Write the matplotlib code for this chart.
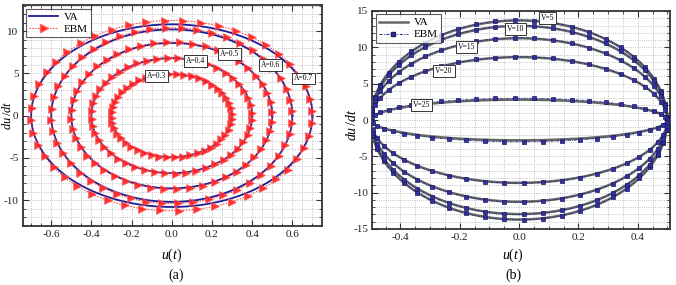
import numpy as np
import matplotlib
matplotlib.use("Agg")
import matplotlib.pyplot as plt
from matplotlib.ticker import MultipleLocator

plt.rcParams['font.family'] = ['Liberation Serif', 'DejaVu Serif']
plt.rcParams['mathtext.fontset'] = 'custom'
plt.rcParams['mathtext.rm'] = 'Liberation Serif'
plt.rcParams['mathtext.it'] = 'Liberation Serif:italic'

# ---- data ----
# panel (a): amplitude and peak velocity of each phase curve
amp_a = [0.3, 0.4, 0.5, 0.6, 0.7]
va_peak_a = [4.9, 6.8, 8.6, 10.2, 10.8]
ebm_peak_a = [4.95, 6.85, 8.7, 10.4, 11.25]
labels_a = ["A=0.3", "A=0.4", "A=0.5", "A=0.6", "A=0.7"]
label_pos_a = [(-0.075, 4.7), (0.116, 6.5), (0.287, 7.26), (0.489, 6.0), (0.655, 4.4)]

# panel (b): amplitude 0.5, peak velocity for each V
v_vals = [5, 10, 15, 20, 25]
amp_b = [0.5, 0.5, 0.5, 0.5, 0.5]
va_peak_b = [13.7, 12.95, 11.25, 8.65, 2.8]
ebm_peak_b = [13.75, 13.0, 11.3, 8.7, 3.0]
labels_b = ["V=5", "V=10", "V=15", "V=20", "V=25"]
label_pos_b = [(0.095, 14.0), (-0.013, 12.5), (-0.176, 10.0), (-0.253, 6.7), (-0.328, 2.05)]

W, H = 676, 285
fig = plt.figure(figsize=(W / 100, H / 100), dpi=100)

def px_axes(x0, y0, x1, y1):
    return fig.add_axes([x0 / W, 1 - y1 / H, (x1 - x0) / W, (y1 - y0) / H])

axA = px_axes(22.7, 5.3, 321.7, 226)
axB = px_axes(372.3, 11, 670, 229)

th_line = np.linspace(0, 2 * np.pi, 400)
N_a, N_b = 48, 48

def style_axes(ax, xmaj, xmin, ymaj, ymin):
    ax.xaxis.set_major_locator(MultipleLocator(xmaj))
    ax.xaxis.set_minor_locator(MultipleLocator(xmin))
    ax.yaxis.set_major_locator(MultipleLocator(ymaj))
    ax.yaxis.set_minor_locator(MultipleLocator(ymin))
    ax.grid(True, which='both', color='#b0b0b0', linestyle=':', linewidth=0.6)
    ax.set_axisbelow(True)
    ax.tick_params(which='both', direction='in', top=True, right=True,
                   labelsize=8, colors='#333333', labelcolor='#222222', pad=3)
    ax.tick_params(which='major', length=4, width=0.8)
    ax.tick_params(which='minor', length=2, width=0.6)
    for s in ax.spines.values():
        s.set_color('#333333')
        s.set_linewidth(1.3)

# ---- panel (a) ----
for i, A in enumerate(amp_a):
    axA.plot(A * np.cos(th_line), va_peak_a[i] * np.sin(th_line), color='#1c1c96',
             lw=1.3, zorder=3, label='VA' if i == 0 else None)
    th = np.linspace(0, 2 * np.pi, N_a, endpoint=False) + 0.05
    axA.plot(A * np.cos(th_line), ebm_peak_a[i] * np.sin(th_line),
             color='#ff3030', lw=0.7, ls=(0, (1.5, 1.5)), zorder=4)
    axA.plot(A * np.cos(th), ebm_peak_a[i] * np.sin(th), ls='none', marker='>',
             ms=5.5, color='#ff2020', mec='#ff6060', mew=0.5, alpha=0.9, zorder=5)
axA.plot([], [], color='#ff3030', lw=0.7, ls=(0, (1.5, 1.5)), marker='>', ms=5.5,
         mfc='#ff2020', mec='#ff6060', label='EBM')
for t, (x, y) in zip(labels_a, label_pos_a):
    axA.text(x, y, t, fontsize=5.5, ha='center', va='center', zorder=6,
             bbox=dict(boxstyle='square,pad=0.25', fc='white', ec='#333333', lw=0.7))
axA.set_xlim(-0.742, 0.746)
axA.set_ylim(-13.05, 13.05)
style_axes(axA, 0.2, 0.05, 5, 1)
axA.set_xticks([-0.6, -0.4, -0.2, 0.0, 0.2, 0.4, 0.6])
axA.set_xticklabels(['-0.6', '-0.4', '-0.2', '0.0', '0.2', '0.4', '0.6'])
axA.set_yticks([-10, -5, 0, 5, 10])
axA.set_yticklabels(['-10', '-5', '0', '5', '10'])
legA = axA.legend(loc='upper left', fontsize=8, frameon=True, fancybox=False,
                  edgecolor='#333333', borderpad=0.3, handlelength=2.6,
                  labelspacing=0.2, borderaxespad=0.3, handletextpad=0.5)
legA.get_frame().set_linewidth(0.8)

# ---- panel (b) ----
for i, V in enumerate(v_vals):
    A = amp_b[i]
    axB.plot(A * np.cos(th_line), va_peak_b[i] * np.sin(th_line), color='#666666',
             lw=1.8, zorder=3, label='VA' if i == 0 else None)
    th = np.linspace(0, 2 * np.pi, N_b, endpoint=False) + 0.03
    axB.plot(A * np.cos(th_line), ebm_peak_b[i] * np.sin(th_line), color='#2a2a8a',
             lw=0.6, ls=(0, (3, 1.5, 1, 1.5)), zorder=4)
    axB.plot(A * np.cos(th), ebm_peak_b[i] * np.sin(th), ls='none', marker='s',
             ms=3.2, color='#3030a0', mec='#1a1a60', mew=0.5, zorder=5)
axB.plot([], [], color='#2a2a8a', lw=0.7, ls=(0, (3, 1.5, 1, 1.5)), marker='s', ms=3.2,
         mfc='#3030a0', mec='#1a1a60', label='EBM')
for t, (x, y) in zip(labels_b, label_pos_b):
    axB.text(x, y, t, fontsize=5.5, ha='center', va='center', zorder=6,
             bbox=dict(boxstyle='square,pad=0.25', fc='white', ec='#333333', lw=0.7))
axB.set_xlim(-0.495, 0.509)
axB.set_ylim(-15, 15)
style_axes(axB, 0.2, 0.05, 5, 1)
axB.set_xticks([-0.4, -0.2, 0.0, 0.2, 0.4])
axB.set_xticklabels(['-0.4', '-0.2', '0.0', '0.2', '0.4'])
axB.set_yticks([-15, -10, -5, 0, 5, 10, 15])
axB.set_yticklabels(['-15', '-10', '-5', '0', '5', '10', '15'])
legB = axB.legend(loc='upper left', fontsize=8, frameon=True, fancybox=False,
                  edgecolor='#333333', borderpad=0.3, handlelength=2.6,
                  labelspacing=0.2, borderaxespad=0.3, handletextpad=0.5)
legB.get_frame().set_linewidth(0.8)

# ---- labels ----
fig.text(171.7 / W, 1 - 255 / H, r'$u(t)$', fontsize=10, ha='center', va='center')
fig.text(512.7 / W, 1 - 255 / H, r'$u(t)$', fontsize=10, ha='center', va='center')
fig.text(175.7 / W, 1 - 275 / H, '(a)', fontsize=10, ha='center', va='center')
fig.text(513 / W, 1 - 275 / H, '(b)', fontsize=10, ha='center', va='center')
fig.text(1 / W, 1 - 115 / H, r'$du\,/dt$', fontsize=9, ha='left', va='center', rotation=90)
fig.text(352 / W, 1 - 125 / H, r'$du\,/dt$', fontsize=10, ha='center', va='center', rotation=90)

fig.savefig('out.png', dpi=100)
